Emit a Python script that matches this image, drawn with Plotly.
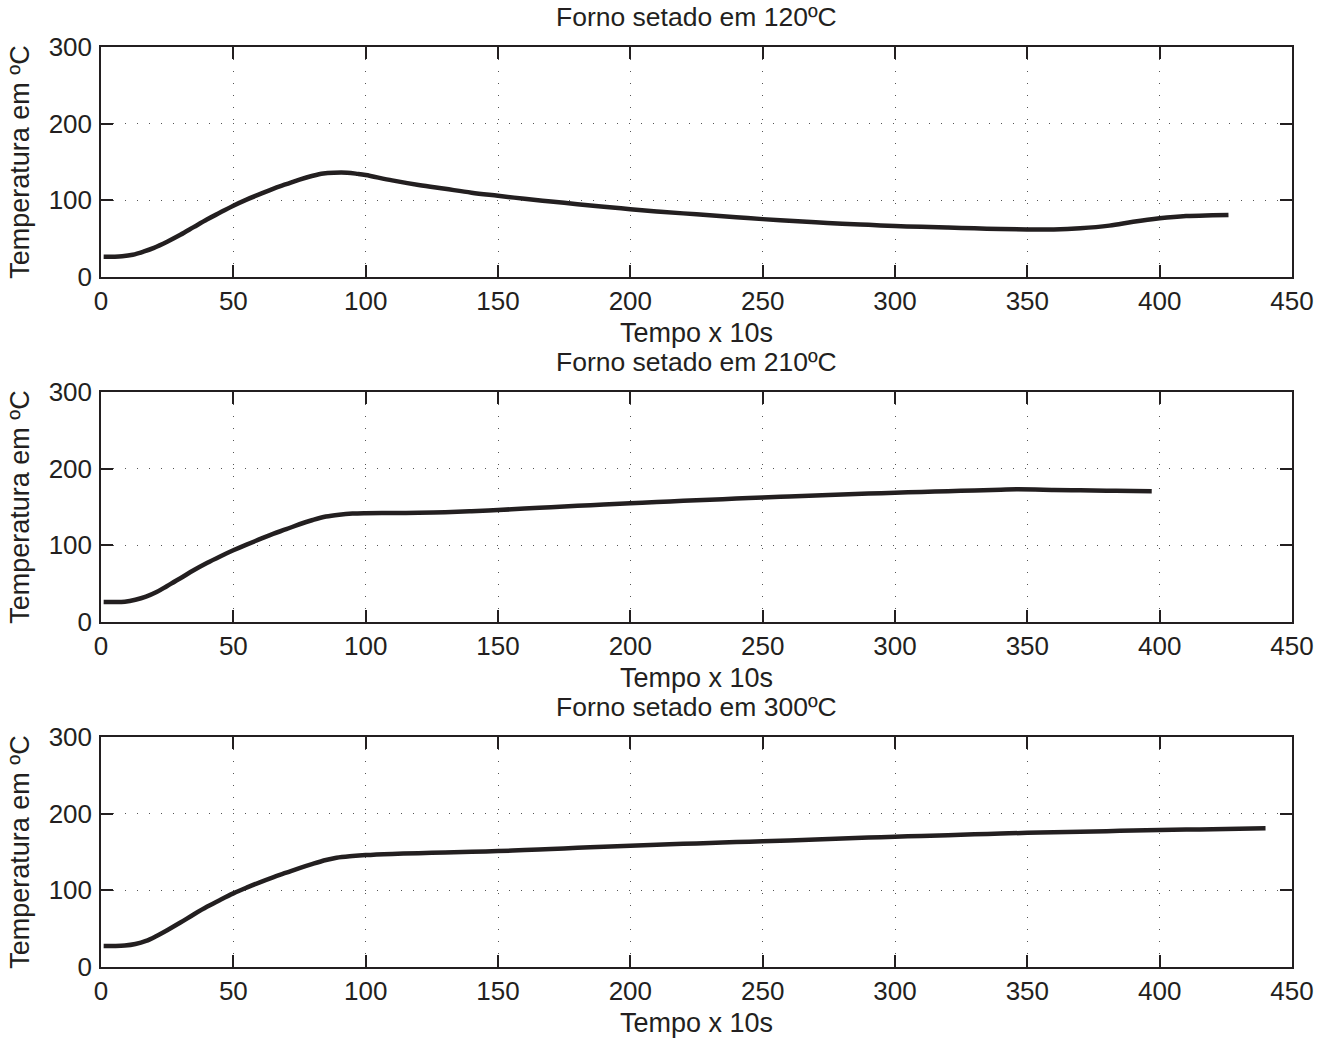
import plotly.graph_objects as go

# ---- data ----
titles = ["Forno setado em 120ºC", "Forno setado em 210ºC", "Forno setado em 300ºC"]
x_label = "Tempo x 10s"
y_label = "Temperatura em ºC"

x_120 = [1, 5, 8, 12, 16, 20, 25, 30, 35, 40, 45, 50, 55, 60, 65, 70, 75, 80, 84, 88, 93, 97,
         100, 110, 120, 130, 140, 150, 160, 170, 180, 190, 200, 210, 220, 230, 240, 250, 260,
         270, 280, 290, 300, 310, 320, 330, 340, 350, 360, 370, 381, 390, 400, 410, 420, 426]
y_120 = [26.5, 26.5, 27, 29, 33, 38, 46, 55, 65, 75, 84, 93, 101, 108, 115, 121, 127, 132, 135,
         136, 136, 134.5, 133, 126, 120, 115, 110, 106, 102, 98.5, 95, 91.5, 88.5, 85.5, 83,
         80.5, 78, 75.5, 73.5, 71.5, 69.5, 68, 66.5, 65.5, 64.5, 63.5, 62.5, 62, 62, 63.5, 67,
         72, 76.5, 79.5, 80.5, 81]

x_210 = [1, 5, 9, 13, 17, 21, 25, 30, 35, 40, 45, 50, 55, 60, 65, 70, 75, 80, 85, 90, 95, 100,
         110, 120, 130, 140, 150, 160, 170, 180, 190, 200, 210, 220, 230, 240, 250, 260, 270,
         280, 290, 300, 310, 320, 330, 340, 346, 360, 370, 380, 390, 397]
y_210 = [26, 26, 26.5, 29, 33, 39, 47, 57, 67.5, 77, 85.5, 93.5, 101, 108, 115, 121, 127.5, 133,
         137.5, 140, 141.5, 142, 142.2, 142.5, 143.2, 144.5, 146, 148, 149.7, 151.5, 153.2, 155,
         156.5, 158, 159.5, 161, 162.4, 163.7, 165, 166.3, 167.5, 168.6, 169.6, 170.6, 171.6,
         172.5, 173, 172.3, 171.7, 171.2, 170.8, 170.6]

x_300 = [1, 5, 9, 13, 17, 21, 25, 30, 35, 40, 45, 50, 55, 60, 65, 70, 75, 80, 85, 89, 95, 100,
         110, 120, 130, 140, 150, 160, 170, 180, 190, 200, 210, 220, 230, 240, 250, 260, 270,
         280, 290, 300, 310, 320, 330, 340, 350, 360, 370, 380, 390, 400, 410, 420, 430, 440]
y_300 = [27.5, 27.5, 28, 30, 34, 40.5, 48, 58, 68.5, 78.5, 87.5, 96, 103.5, 110.5, 117, 123, 129,
         134.5, 139.5, 142.5, 144.7, 146, 147.5, 148.5, 149.3, 150.2, 151.2, 152.5, 154, 155.4,
         156.8, 158, 159.4, 160.6, 161.8, 163, 164, 165.1, 166.3, 167.5, 168.8, 170, 171, 172,
         173, 174, 175, 175.7, 176.5, 177.2, 178, 178.6, 179.2, 179.8, 180.4, 181]

x_ticks = [0, 50, 100, 150, 200, 250, 300, 350, 400, 450]
y_ticks = [0, 100, 200, 300]

series = [(x_120, y_120), (x_210, y_210), (x_300, y_300)]

# ---- style ----
INK = "#231f20"
FONT = "Liberation Sans, Arial, Helvetica, sans-serif"
domains = [[0.75, 1.0], [0.375, 0.625], [0.0, 0.25]]

fig = go.Figure()
layout = dict(
    width=1333, height=1038,
    margin=dict(l=101, r=41, t=47, b=71),
    paper_bgcolor="white", plot_bgcolor="white",
    showlegend=False,
    font=dict(family=FONT, size=26, color=INK),
)

annotations = []
for i, ((xs, ys), title) in enumerate(zip(series, titles)):
    n = "" if i == 0 else str(i + 1)
    fig.add_trace(go.Scatter(x=xs, y=ys, mode="lines",
                             line=dict(color=INK, width=4.5, shape="spline", smoothing=1.0),
                             xaxis="x" + n, yaxis="y" + n))
    common = dict(
        showline=True, linecolor=INK, linewidth=1.5, mirror="ticks",
        ticks="inside", ticklen=12, tickwidth=1.5, tickcolor=INK,
        showgrid=True, gridcolor="#555555", gridwidth=1, griddash="1px,11px",
        zeroline=False, automargin=False,
        tickfont=dict(family=FONT, size=26, color=INK),
    )
    layout["xaxis" + n] = dict(
        common, domain=[0, 1], anchor="y" + n, range=[0, 450],
        tickmode="array", tickvals=x_ticks, ticktext=[str(v) for v in x_ticks],
        ticklabelstandoff=0,
        title=dict(text=x_label, standoff=8, font=dict(size=27)),
    )
    layout["yaxis" + n] = dict(
        common, domain=domains[i], anchor="x" + n, range=[0, 300],
        tickmode="array", tickvals=y_ticks, ticktext=[str(v) for v in y_ticks],
        ticklabelstandoff=2,
        title=dict(text=y_label, standoff=11, font=dict(size=27)),
    )
    annotations.append(dict(
        text=title, xref="paper", yref="paper", x=0.5, y=domains[i][1],
        xanchor="center", yanchor="bottom", yshift=13, showarrow=False,
        font=dict(family=FONT, size=26.5, color=INK),
    ))

layout["annotations"] = annotations
fig.update_layout(**layout)
fig.write_html("out.html")
